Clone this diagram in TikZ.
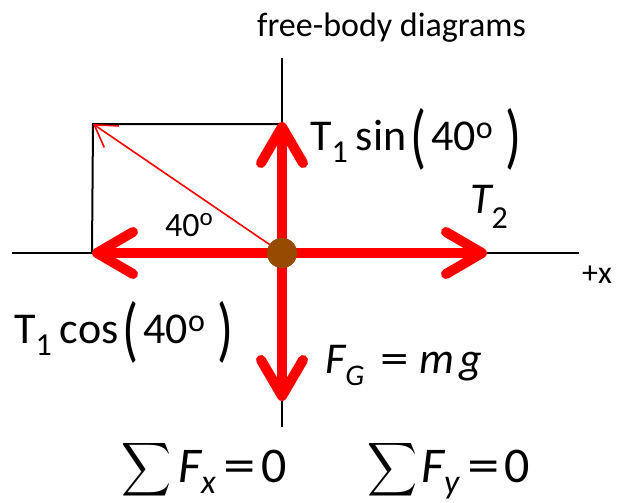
\documentclass[tikz,border=0pt]{standalone}
\usepackage{fontspec}
\setmainfont{Carlito}
\usepackage{graphicx}
\usetikzlibrary{arrows.meta}
\definecolor{dotbrown}{RGB}{150,75,0}
\definecolor{fred}{RGB}{255,0,0}
\newcommand{\fsz}[1]{\fontsize{#1}{#1}\selectfont}
\newcommand{\tallparen}[1]{\raisebox{-10pt}{\scalebox{1.2}[1.62]{#1}}}
\newcommand{\wideeq}{\scalebox{1.3}[1]{=}}
\begin{document}
\begin{tikzpicture}[x=1pt,y=-1pt,
  axisline/.style={line width=2pt, black},
  force/.style={line width=10pt, fred, -{Straight Barb[length=36pt,width=42pt,round]}},
  thinforce/.style={line width=1.6pt, fred, -{Straight Barb[length=21pt,width=26pt]}},
  lbl/.style={inner sep=0pt, anchor=base west},
  dotstyle/.style={circle, fill=dotbrown, minimum size=30pt, inner sep=0pt}]
\useasboundingbox (0,0) rectangle (619,503);
% coordinates
\coordinate (AL) at (12,253);
\coordinate (AR) at (579,253);
\coordinate (AT) at (282,58);
\coordinate (AB) at (282,427);
\coordinate (U) at (282,122);
\coordinate (L) at (92,253);
\coordinate (R) at (487,253);
\coordinate (D) at (282,401);
\coordinate (P) at (93,124);
\coordinate (Q) at (282,124);
\node[dotstyle] (O) at (282,253) {};
% axes and rectangle
\draw[axisline] (AL) -- (AR);
\draw[axisline] (AT) -- (AB);
\draw[axisline] (L) -- (P) -- (Q);
% forces
\draw[thinforce] (O.center) -- (P);
\draw[force] (O.center) -- (U);
\draw[force] (O.center) -- (L);
\draw[force] (O.center) -- (R);
\draw[force] (O.center) -- (D);
\node[dotstyle] (O2) at (O) {};
% labels
\node[lbl] (title) at (257,37) {\fsz{34}free-body diagrams};
\node[lbl] (tsin) at (310,150) {\fsz{44}T\raisebox{-12pt}{\fsz{32}1}\hspace{8pt}sin\hspace{4pt}\tallparen{(}\hspace{5pt}40\raisebox{12pt}{\fsz{32}o}\hspace{13pt}\tallparen{)}};
\node[lbl] (t2) at (470,213) {\fsz{44}\itshape T\raisebox{-15pt}{\fsz{32}\upshape 2}};
\node[lbl] (px) at (582,283) {\fsz{32}+x};
\node[lbl] (ang) at (165,236) {\fsz{34}40\raisebox{11pt}{\fsz{25}o}};
\node[lbl] (tcos) at (14,343) {\fsz{44}T\raisebox{-12pt}{\fsz{32}1}\hspace{8pt}cos\hspace{4pt}\tallparen{(}\hspace{5pt}40\raisebox{12pt}{\fsz{32}o}\hspace{13pt}\tallparen{)}};
\node[lbl] (fg) at (325,373) {\fsz{44}\itshape F\raisebox{-12pt}{\fsz{30}G}\hspace{16pt}\upshape\wideeq\hspace{11pt}\itshape m\hspace{5pt}g};
\node[inner sep=0pt] (s1) at (147,470) {\resizebox*{50pt}{60pt}{$\displaystyle\sum$}};
\node[lbl] (fx) at (178,482) {\fsz{50}\itshape F\raisebox{-11pt}{\fsz{34}x}\hspace{8pt}\upshape\wideeq\hspace{5pt}0};
\node[inner sep=0pt] (s2) at (393,470) {\resizebox*{50pt}{60pt}{$\displaystyle\sum$}};
\node[lbl] (fy) at (421,482) {\fsz{50}\itshape F\raisebox{-11pt}{\fsz{34}y}\hspace{8pt}\upshape\wideeq\hspace{5pt}0};
\end{tikzpicture}
\end{document}
